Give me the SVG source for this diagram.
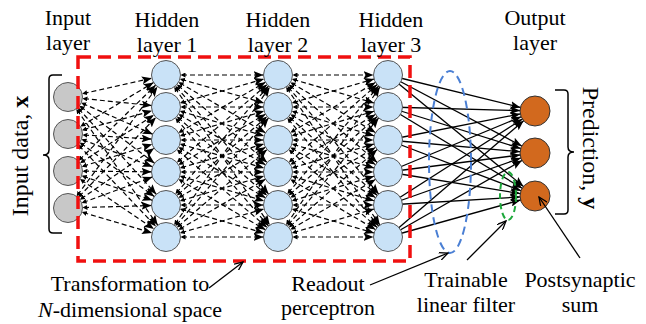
<svg xmlns="http://www.w3.org/2000/svg" width="646" height="324" viewBox="0 0 646 324">
<defs>
<style>
text{font-family:"Liberation Serif","DejaVu Serif","Times New Roman",serif;font-size:22px;fill:#000;text-anchor:middle}
.dash line{stroke:#000;stroke-width:1.2;stroke-dasharray:5 3;marker-end:url(#ah);marker-start:url(#st)}
.solid line{stroke:#000;stroke-width:1.3;marker-end:url(#ao)}
.in{fill:#c8c8c8;stroke:#555;stroke-width:1}
.hid{fill:#c9e2f7;stroke:#555;stroke-width:1}
.out{fill:#d2691e;stroke:#333;stroke-width:1}
.call{stroke:#000;stroke-width:1.3;fill:none;marker-end:url(#open)}
.brace{stroke:#000;stroke-width:1.5;fill:none}
</style>
<marker id="ah" markerUnits="userSpaceOnUse" markerWidth="10" markerHeight="8" refX="24.5" refY="4" orient="auto"><path d="M0,0 L10,4 L0,8 L2,4 z" fill="#000"/></marker>
<marker id="st" markerUnits="userSpaceOnUse" markerWidth="5" markerHeight="5" refX="-14.5" refY="2.5" orient="auto"><path d="M0,2.5 L5,0 L5,5 z" fill="#000"/></marker>
<marker id="ao" markerUnits="userSpaceOnUse" markerWidth="10" markerHeight="8" refX="25" refY="4" orient="auto"><path d="M0,0 L10,4 L0,8 L2,4 z" fill="#000"/></marker>
<marker id="open" markerUnits="userSpaceOnUse" markerWidth="10" markerHeight="8" refX="9" refY="4" orient="auto"><path d="M0,0 L9,4 L0,8" fill="none" stroke="#000" stroke-width="1.3"/></marker>
</defs>
<rect width="646" height="324" fill="#fff"/>
<g id="connectors">
<g class="dash" id="in-h1">
<line x1="68" y1="97" x2="166" y2="75"/><line x1="68" y1="97" x2="166" y2="107"/><line x1="68" y1="97" x2="166" y2="140"/><line x1="68" y1="97" x2="166" y2="172"/><line x1="68" y1="97" x2="166" y2="205"/><line x1="68" y1="97" x2="166" y2="237"/>
<line x1="68" y1="134" x2="166" y2="75"/><line x1="68" y1="134" x2="166" y2="107"/><line x1="68" y1="134" x2="166" y2="140"/><line x1="68" y1="134" x2="166" y2="172"/><line x1="68" y1="134" x2="166" y2="205"/><line x1="68" y1="134" x2="166" y2="237"/>
<line x1="68" y1="171" x2="166" y2="75"/><line x1="68" y1="171" x2="166" y2="107"/><line x1="68" y1="171" x2="166" y2="140"/><line x1="68" y1="171" x2="166" y2="172"/><line x1="68" y1="171" x2="166" y2="205"/><line x1="68" y1="171" x2="166" y2="237"/>
<line x1="68" y1="208" x2="166" y2="75"/><line x1="68" y1="208" x2="166" y2="107"/><line x1="68" y1="208" x2="166" y2="140"/><line x1="68" y1="208" x2="166" y2="172"/><line x1="68" y1="208" x2="166" y2="205"/><line x1="68" y1="208" x2="166" y2="237"/>
</g>
<g class="dash" id="h1-h2">
<line x1="166" y1="75" x2="278" y2="75"/><line x1="166" y1="75" x2="278" y2="107"/><line x1="166" y1="75" x2="278" y2="140"/><line x1="166" y1="75" x2="278" y2="172"/><line x1="166" y1="75" x2="278" y2="205"/><line x1="166" y1="75" x2="278" y2="237"/>
<line x1="166" y1="107" x2="278" y2="75"/><line x1="166" y1="107" x2="278" y2="107"/><line x1="166" y1="107" x2="278" y2="140"/><line x1="166" y1="107" x2="278" y2="172"/><line x1="166" y1="107" x2="278" y2="205"/><line x1="166" y1="107" x2="278" y2="237"/>
<line x1="166" y1="140" x2="278" y2="75"/><line x1="166" y1="140" x2="278" y2="107"/><line x1="166" y1="140" x2="278" y2="140"/><line x1="166" y1="140" x2="278" y2="172"/><line x1="166" y1="140" x2="278" y2="205"/><line x1="166" y1="140" x2="278" y2="237"/>
<line x1="166" y1="172" x2="278" y2="75"/><line x1="166" y1="172" x2="278" y2="107"/><line x1="166" y1="172" x2="278" y2="140"/><line x1="166" y1="172" x2="278" y2="172"/><line x1="166" y1="172" x2="278" y2="205"/><line x1="166" y1="172" x2="278" y2="237"/>
<line x1="166" y1="205" x2="278" y2="75"/><line x1="166" y1="205" x2="278" y2="107"/><line x1="166" y1="205" x2="278" y2="140"/><line x1="166" y1="205" x2="278" y2="172"/><line x1="166" y1="205" x2="278" y2="205"/><line x1="166" y1="205" x2="278" y2="237"/>
<line x1="166" y1="237" x2="278" y2="75"/><line x1="166" y1="237" x2="278" y2="107"/><line x1="166" y1="237" x2="278" y2="140"/><line x1="166" y1="237" x2="278" y2="172"/><line x1="166" y1="237" x2="278" y2="205"/><line x1="166" y1="237" x2="278" y2="237"/>
</g>
<g class="dash" id="h2-h3">
<line x1="278" y1="75" x2="388" y2="75"/><line x1="278" y1="75" x2="388" y2="107"/><line x1="278" y1="75" x2="388" y2="140"/><line x1="278" y1="75" x2="388" y2="172"/><line x1="278" y1="75" x2="388" y2="205"/><line x1="278" y1="75" x2="388" y2="237"/>
<line x1="278" y1="107" x2="388" y2="75"/><line x1="278" y1="107" x2="388" y2="107"/><line x1="278" y1="107" x2="388" y2="140"/><line x1="278" y1="107" x2="388" y2="172"/><line x1="278" y1="107" x2="388" y2="205"/><line x1="278" y1="107" x2="388" y2="237"/>
<line x1="278" y1="140" x2="388" y2="75"/><line x1="278" y1="140" x2="388" y2="107"/><line x1="278" y1="140" x2="388" y2="140"/><line x1="278" y1="140" x2="388" y2="172"/><line x1="278" y1="140" x2="388" y2="205"/><line x1="278" y1="140" x2="388" y2="237"/>
<line x1="278" y1="172" x2="388" y2="75"/><line x1="278" y1="172" x2="388" y2="107"/><line x1="278" y1="172" x2="388" y2="140"/><line x1="278" y1="172" x2="388" y2="172"/><line x1="278" y1="172" x2="388" y2="205"/><line x1="278" y1="172" x2="388" y2="237"/>
<line x1="278" y1="205" x2="388" y2="75"/><line x1="278" y1="205" x2="388" y2="107"/><line x1="278" y1="205" x2="388" y2="140"/><line x1="278" y1="205" x2="388" y2="172"/><line x1="278" y1="205" x2="388" y2="205"/><line x1="278" y1="205" x2="388" y2="237"/>
<line x1="278" y1="237" x2="388" y2="75"/><line x1="278" y1="237" x2="388" y2="107"/><line x1="278" y1="237" x2="388" y2="140"/><line x1="278" y1="237" x2="388" y2="172"/><line x1="278" y1="237" x2="388" y2="205"/><line x1="278" y1="237" x2="388" y2="237"/>
</g>
<g class="solid" id="h3-out">
<line x1="388" y1="75" x2="535" y2="111"/><line x1="388" y1="75" x2="535" y2="153"/><line x1="388" y1="75" x2="535" y2="196"/>
<line x1="388" y1="107" x2="535" y2="111"/><line x1="388" y1="107" x2="535" y2="153"/><line x1="388" y1="107" x2="535" y2="196"/>
<line x1="388" y1="140" x2="535" y2="111"/><line x1="388" y1="140" x2="535" y2="153"/><line x1="388" y1="140" x2="535" y2="196"/>
<line x1="388" y1="172" x2="535" y2="111"/><line x1="388" y1="172" x2="535" y2="153"/><line x1="388" y1="172" x2="535" y2="196"/>
<line x1="388" y1="205" x2="535" y2="111"/><line x1="388" y1="205" x2="535" y2="153"/><line x1="388" y1="205" x2="535" y2="196"/>
<line x1="388" y1="237" x2="535" y2="111"/><line x1="388" y1="237" x2="535" y2="153"/><line x1="388" y1="237" x2="535" y2="196"/>
</g>
</g>
<g id="input-layer">
<circle class="in" cx="68" cy="97" r="14.5"/><circle class="in" cx="68" cy="134" r="14.5"/><circle class="in" cx="68" cy="171" r="14.5"/><circle class="in" cx="68" cy="208" r="14.5"/>
</g>
<g id="hidden-layer-1">
<circle class="hid" cx="166" cy="75" r="14.5"/><circle class="hid" cx="166" cy="107" r="14.5"/><circle class="hid" cx="166" cy="140" r="14.5"/><circle class="hid" cx="166" cy="172" r="14.5"/><circle class="hid" cx="166" cy="205" r="14.5"/><circle class="hid" cx="166" cy="237" r="14.5"/>
</g>
<g id="hidden-layer-2">
<circle class="hid" cx="278" cy="75" r="14.5"/><circle class="hid" cx="278" cy="107" r="14.5"/><circle class="hid" cx="278" cy="140" r="14.5"/><circle class="hid" cx="278" cy="172" r="14.5"/><circle class="hid" cx="278" cy="205" r="14.5"/><circle class="hid" cx="278" cy="237" r="14.5"/>
</g>
<g id="hidden-layer-3">
<circle class="hid" cx="388" cy="75" r="14.5"/><circle class="hid" cx="388" cy="107" r="14.5"/><circle class="hid" cx="388" cy="140" r="14.5"/><circle class="hid" cx="388" cy="172" r="14.5"/><circle class="hid" cx="388" cy="205" r="14.5"/><circle class="hid" cx="388" cy="237" r="14.5"/>
</g>
<g id="output-layer">
<circle class="out" cx="535" cy="111" r="15"/><circle class="out" cx="535" cy="153" r="15"/><circle class="out" cx="535" cy="196" r="15"/>
</g>
<g id="transformation-box">
<rect x="78" y="57" width="332" height="204" fill="none" stroke="#f01010" stroke-width="3.5" stroke-dasharray="13 7"/>
</g>
<g id="readout-ellipse">
<ellipse cx="450" cy="162" rx="21" ry="91" fill="none" stroke="#4a7fd4" stroke-width="2" stroke-dasharray="8 5"/>
</g>
<g id="filter-ellipse">
<ellipse cx="508" cy="196" rx="8" ry="24" fill="none" stroke="#1ea83c" stroke-width="2" stroke-dasharray="6 4"/>
</g>
<g id="braces">
<path class="brace" d="M62,75 L53,75 Q49,75 49,79 L49,150 Q49,155 43,155 Q49,155 49,160 L49,229 Q49,233 53,233 L62,233"/>
<path class="brace" d="M555,90 L564,90 Q568,90 568,94 L568,147 Q568,152 574,152 Q568,152 568,157 L568,210 Q568,214 564,214 L555,214"/>
</g>
<g id="callouts">
<line class="call" x1="209" y1="288" x2="243" y2="262"/>
<line class="call" x1="370" y1="285" x2="448" y2="253"/>
<line class="call" x1="467" y1="260" x2="506" y2="221"/>
<line class="call" x1="580" y1="258" x2="539" y2="197"/>
</g>
<g id="labels" font-family="Liberation Serif, DejaVu Serif, serif">
<text x="68" y="25">Input</text><text x="68" y="50">layer</text>
<text x="167" y="27">Hidden</text><text x="167" y="52">layer 1</text>
<text x="278" y="27">Hidden</text><text x="278" y="52">layer 2</text>
<text x="391" y="27">Hidden</text><text x="391" y="52">layer 3</text>
<text x="535" y="25">Output</text><text x="535" y="50">layer</text>
<text transform="translate(28,156) rotate(-90)" style="font-size:24px">Input data, <tspan font-weight="bold">x</tspan></text>
<text transform="translate(583,148) rotate(90)" style="font-size:24px">Prediction, <tspan font-weight="bold">y</tspan></text>
<text x="130" y="291">Transformation to</text>
<text x="130" y="317"><tspan font-style="italic">N</tspan>-dimensional space</text>
<text x="328" y="291">Readout</text><text x="328" y="315">perceptron</text>
<text x="466" y="287">Trainable</text><text x="466" y="312">linear filter</text>
<text x="580" y="287">Postsynaptic</text><text x="580" y="312">sum</text>
</g>
</svg>
